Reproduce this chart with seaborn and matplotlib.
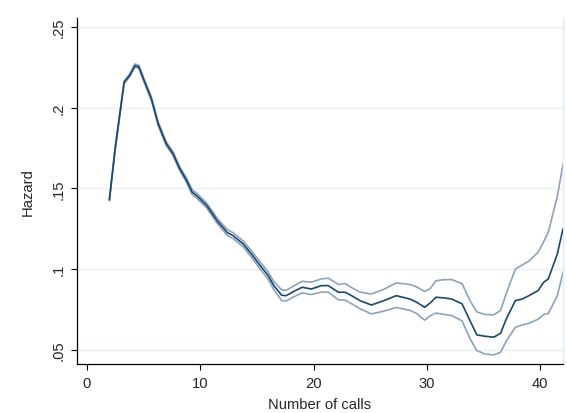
import numpy as np
import pandas as pd
import matplotlib
matplotlib.use("Agg")
import matplotlib.pyplot as plt
import seaborn as sns

calls = [2.0, 2.5, 3.0, 3.3, 3.8, 4.25, 4.6, 5.1, 5.7, 6.3, 7.0, 7.6, 8.2, 8.8, 9.3, 9.7,
         10.6, 11.5, 12.4, 12.9, 13.8, 14.5, 15.3, 16.0, 16.5, 17.2, 17.6, 18.2, 19.0, 19.8,
         20.7, 21.3, 22.2, 22.8, 23.5, 24.1, 25.1, 26.2, 27.3, 28.5, 29.1, 29.8, 30.3, 30.8,
         31.5, 32.2, 33.1, 33.8, 34.4, 35.1, 35.9, 36.5, 37.0, 37.8, 38.4, 39.0, 39.8, 40.3,
         40.7, 41.5, 42.0]
hazard = [0.1428, 0.1740, 0.2000, 0.2156, 0.2200, 0.2259, 0.2252, 0.2160, 0.2055, 0.1900,
          0.1778, 0.1716, 0.1622, 0.1550, 0.1476, 0.1455, 0.1392, 0.1300, 0.1226, 0.1208,
          0.1156, 0.1096, 0.1022, 0.0960, 0.0898, 0.0838, 0.0836, 0.0860, 0.0888, 0.0877,
          0.0898, 0.0898, 0.0857, 0.0857, 0.0830, 0.0805, 0.0778, 0.0805, 0.0836, 0.0815,
          0.0795, 0.0764, 0.0791, 0.0826, 0.0822, 0.0815, 0.0785, 0.0681, 0.0593, 0.0585,
          0.0579, 0.0603, 0.0692, 0.0805, 0.0815, 0.0836, 0.0867, 0.0919, 0.0939, 0.1094,
          0.1250]
upper = [0.1431, 0.1748, 0.2008, 0.2164, 0.2208, 0.2269, 0.2262, 0.2170, 0.2066, 0.1912,
         0.1790, 0.1728, 0.1634, 0.1563, 0.1491, 0.1470, 0.1407, 0.1316, 0.1244, 0.1226,
         0.1174, 0.1115, 0.1044, 0.0983, 0.0923, 0.0871, 0.0870, 0.0893, 0.0925, 0.0919,
         0.0940, 0.0944, 0.0906, 0.0910, 0.0880, 0.0858, 0.0846, 0.0875, 0.0915, 0.0905,
         0.0890, 0.0862, 0.0880, 0.0928, 0.0935, 0.0935, 0.0910, 0.0805, 0.0735, 0.0720,
         0.0717, 0.0745, 0.0850, 0.1000, 0.1026, 0.1050, 0.1104, 0.1170, 0.1228, 0.1450,
         0.1650]
lower = [0.1425, 0.1732, 0.1992, 0.2148, 0.2192, 0.2249, 0.2242, 0.2150, 0.2044, 0.1888,
         0.1766, 0.1704, 0.1610, 0.1537, 0.1461, 0.1440, 0.1377, 0.1284, 0.1208, 0.1190,
         0.1138, 0.1077, 0.1000, 0.0937, 0.0873, 0.0805, 0.0803, 0.0827, 0.0853, 0.0843,
         0.0858, 0.0858, 0.0810, 0.0808, 0.0780, 0.0755, 0.0723, 0.0740, 0.0763, 0.0745,
         0.0725, 0.0684, 0.0712, 0.0728, 0.0720, 0.0712, 0.0680, 0.0570, 0.0496, 0.0475,
         0.0469, 0.0486, 0.0555, 0.0640, 0.0655, 0.0665, 0.0690, 0.0720, 0.0725, 0.0836,
         0.0980]

x_ticks = [0, 10, 20, 30, 40]
y_ticks = [0.05, 0.10, 0.15, 0.20, 0.25]
y_tick_labels = [".05", ".1", ".15", ".2", ".25"]

df = pd.DataFrame({"calls": calls, "hazard": hazard, "upper": upper, "lower": lower})

sns.set_style("white")
plt.rcParams["font.family"] = ["Liberation Sans", "DejaVu Sans"]

fig = plt.figure(figsize=(5.67, 4.14), dpi=100)
ax = fig.add_axes([77 / 567, 1 - 365 / 414, (563 - 77) / 567, (365 - 19) / 414])

for yv in y_ticks:
    ax.axhline(yv, color="#eaf2f3", lw=1.0, zorder=0)

band_col = "#8ea2ba"
sns.lineplot(data=df, x="calls", y="upper", ax=ax, color=band_col, lw=1.2, zorder=2)
sns.lineplot(data=df, x="calls", y="lower", ax=ax, color=band_col, lw=1.2, zorder=2)
sns.lineplot(data=df, x="calls", y="hazard", ax=ax, color="#1a476f", lw=1.2, zorder=3)

ax.set_xlim(-0.855, 42.0)
ax.set_ylim(0.0413, 0.2554)
ax.set_xticks(x_ticks)
ax.set_xticklabels([str(t) for t in x_ticks])
ax.set_yticks(y_ticks)
ax.set_yticklabels(y_tick_labels, rotation=90, va="center")
ax.tick_params(axis="both", direction="out", length=4.5, width=0.8, color="black",
               labelsize=10.6, left=True, bottom=True)
ax.tick_params(axis="x", pad=4)
ax.tick_params(axis="y", pad=3.5)
ax.set_xlabel("Number of calls", fontsize=10.6, labelpad=5)
ax.set_ylabel("Hazard", fontsize=10.6, labelpad=12)

ax.spines["top"].set_visible(False)
ax.spines["right"].set_color("#e3ebf0")
ax.spines["right"].set_linewidth(1.0)
for s in ["left", "bottom"]:
    ax.spines[s].set_color("black")
    ax.spines[s].set_linewidth(0.9)

fig.savefig("out.png", dpi=100)
